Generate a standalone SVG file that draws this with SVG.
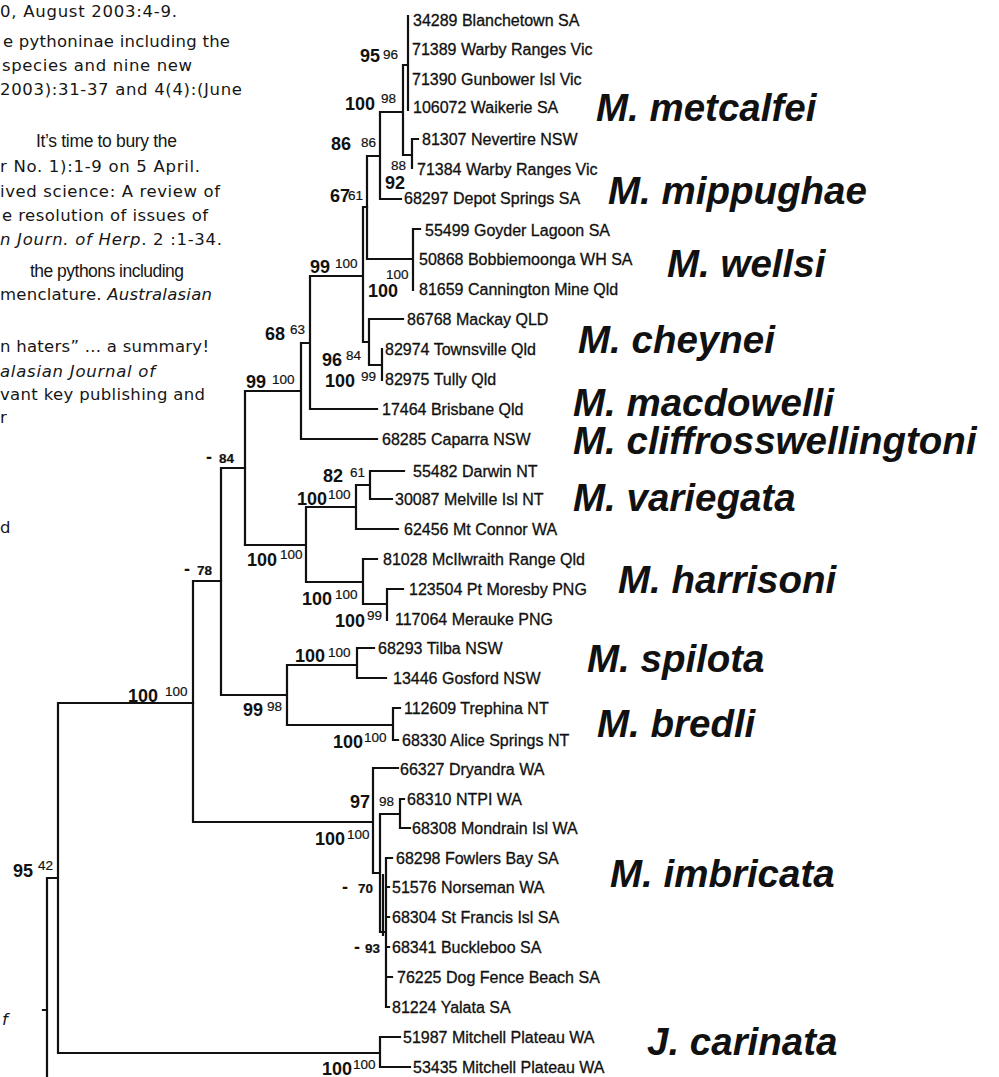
<svg xmlns="http://www.w3.org/2000/svg" width="999" height="1077" viewBox="0 0 999 1077">
<style>
text{font-family:"Liberation Sans",Arial,sans-serif;fill:#111}
.pg{font-family:"DejaVu Sans","Liberation Sans",sans-serif;font-size:16.5px;fill:#161616}
.pa{font-family:"Liberation Sans",Arial,sans-serif;font-size:17.5px;fill:#161616}
.it{font-style:italic}
.lf{font-size:16px;stroke:#111;stroke-width:0.3}
.sp{font-size:38.5px;font-weight:bold;font-style:italic}
.s1{font-size:18px;font-weight:bold}
.s2{font-size:13.5px;stroke:#111;stroke-width:0.2}
.br{fill:none;stroke:#111;stroke-width:2.2;stroke-linecap:square}
</style>
<rect width="999" height="1077" fill="#fff"/>
<g id="page-text">
<text class="pg" x="0" y="17" textLength="177">0, August 2003:4-9.</text>
<text class="pg" x="3" y="47" textLength="227">e pythoninae including the</text>
<text class="pg" x="2" y="71" textLength="190">species and nine new</text>
<text class="pg" x="0" y="95" textLength="242">2003):31-37 and 4(4):(June</text>
<text class="pa" x="36" y="147" textLength="141">It’s time to bury the</text>
<text class="pg" x="0" y="172" textLength="200">r No. 1):1-9 on 5 April.</text>
<text class="pg" x="0" y="197" textLength="220">ived science: A review of</text>
<text class="pg" x="2" y="221" textLength="206">e resolution of issues of</text>
<text class="pg" x="0" y="245" textLength="222"><tspan class="it">n Journ. of Herp</tspan>. 2 :1-34.</text>
<text class="pa" x="30" y="277" textLength="154">the pythons including</text>
<text class="pg" x="0" y="300" textLength="212">menclature. <tspan class="it">Australasian</tspan></text>
<text class="pg" x="0" y="352" textLength="209">n haters” ... a summary!</text>
<text class="pg it" x="0" y="377" textLength="155">alasian Journal of</text>
<text class="pg" x="0" y="400" textLength="205">vant key publishing and</text>
<text class="pg" x="0" y="423">r</text>
<text class="pg" x="0" y="533">d</text>
<text class="pg it" x="2" y="1025">f</text>
</g>
<g id="connectors" class="br">
<path d="M408,16V110M403,65H408M403,65V155M403,155H412M412,139V168M412,139H418M380,112H403M380,112V199M380,199H401M367,156H380M367,156V259M367,259H413M413,229V290M413,229H420"/>
<path d="M363,207H367M363,207V342M363,342H369M369,319V365M369,319H403M369,365H382M382,349V380M310,276H363M310,276V409M310,409H377M301,343H310M301,343V439M301,439H377M245,391H301M245,391V545"/>
<path d="M245,545H306M306,507V582M306,507H356M356,485V529M356,529H398M356,485H370M370,471V499M370,471H404M370,499H392M306,582H363M363,559V604M363,559H377M363,604H387M387,589V620M387,589H403"/>
<path d="M221,468H245M221,468V695M221,695H287M287,665V725M287,665H357M357,648V678M357,648H374M357,678H386M287,725H393M393,708V740M393,708H400M393,740H398"/>
<path d="M193,581H221M193,581V822M193,822H373M373,768V873M373,768H398M373,873H380M380,814V932M380,814H400M400,799V828M400,799H404M400,828H410M380,932H386M383,875V935M386,858V1007M386,858H392M386,887H389M386,917H389M386,947H389M386,977H392M386,1007H389"/>
<path d="M58,703H193M58,703V1053M58,1053H380M380,1037V1067M380,1037H400M380,1067H410M47,878H58M47,878V1077M43,1010H47"/>
</g>
<g id="leaves">
<g id="leaf-34289"><text class="lf" x="413" y="26">34289 Blanchetown SA</text></g>
<g id="leaf-71389"><text class="lf" x="412" y="55">71389 Warby Ranges Vic</text></g>
<g id="leaf-71390"><text class="lf" x="412" y="85">71390 Gunbower Isl Vic</text></g>
<g id="leaf-106072"><text class="lf" x="413" y="113">106072 Waikerie SA</text></g>
<g id="leaf-81307"><text class="lf" x="422" y="145">81307 Nevertire NSW</text></g>
<g id="leaf-71384"><text class="lf" x="417" y="175">71384 Warby Ranges Vic</text></g>
<g id="leaf-68297"><text class="lf" x="404" y="204">68297 Depot Springs SA</text></g>
<g id="leaf-55499"><text class="lf" x="425" y="236">55499 Goyder Lagoon SA</text></g>
<g id="leaf-50868"><text class="lf" x="419" y="265">50868 Bobbiemoonga WH SA</text></g>
<g id="leaf-81659"><text class="lf" x="419" y="295">81659 Cannington Mine Qld</text></g>
<g id="leaf-86768"><text class="lf" x="407" y="325">86768 Mackay QLD</text></g>
<g id="leaf-82974"><text class="lf" x="385" y="355">82974 Townsville Qld</text></g>
<g id="leaf-82975"><text class="lf" x="385" y="385">82975 Tully Qld</text></g>
<g id="leaf-17464"><text class="lf" x="382" y="415">17464 Brisbane Qld</text></g>
<g id="leaf-68285"><text class="lf" x="382" y="445">68285 Caparra NSW</text></g>
<g id="leaf-55482"><text class="lf" x="413" y="477">55482 Darwin NT</text></g>
<g id="leaf-30087"><text class="lf" x="395" y="505">30087 Melville Isl NT</text></g>
<g id="leaf-62456"><text class="lf" x="404" y="535">62456 Mt Connor WA</text></g>
<g id="leaf-81028"><text class="lf" x="383" y="565">81028 McIlwraith Range Qld</text></g>
<g id="leaf-123504"><text class="lf" x="409" y="595">123504 Pt Moresby PNG</text></g>
<g id="leaf-117064"><text class="lf" x="395" y="625">117064 Merauke PNG</text></g>
<g id="leaf-68293"><text class="lf" x="378" y="654">68293 Tilba NSW</text></g>
<g id="leaf-13446"><text class="lf" x="393" y="684">13446 Gosford NSW</text></g>
<g id="leaf-112609"><text class="lf" x="404" y="714">112609 Trephina NT</text></g>
<g id="leaf-68330"><text class="lf" x="402" y="746">68330 Alice Springs NT</text></g>
<g id="leaf-66327"><text class="lf" x="400" y="775">66327 Dryandra WA</text></g>
<g id="leaf-68310"><text class="lf" x="407" y="805">68310 NTPI WA</text></g>
<g id="leaf-68308"><text class="lf" x="412" y="834">68308 Mondrain Isl WA</text></g>
<g id="leaf-68298"><text class="lf" x="396" y="864">68298 Fowlers Bay SA</text></g>
<g id="leaf-51576"><text class="lf" x="392" y="893">51576 Norseman WA</text></g>
<g id="leaf-68304"><text class="lf" x="392" y="923">68304 St Francis Isl SA</text></g>
<g id="leaf-68341"><text class="lf" x="392" y="953">68341 Buckleboo SA</text></g>
<g id="leaf-76225"><text class="lf" x="397" y="983">76225 Dog Fence Beach SA</text></g>
<g id="leaf-81224"><text class="lf" x="392" y="1013">81224 Yalata SA</text></g>
<g id="leaf-51987"><text class="lf" x="403" y="1043">51987 Mitchell Plateau WA</text></g>
<g id="leaf-53435"><text class="lf" x="413" y="1073">53435 Mitchell Plateau WA</text></g>
</g>
<g id="species">
<g id="sp-metcalfei"><text class="sp" x="596" y="121">M. metcalfei</text></g>
<g id="sp-mippughae"><text class="sp" x="608" y="204">M. mippughae</text></g>
<g id="sp-wellsi"><text class="sp" x="667" y="277">M. wellsi</text></g>
<g id="sp-cheynei"><text class="sp" x="578" y="353">M. cheynei</text></g>
<g id="sp-macdowelli"><text class="sp" x="573" y="416">M. macdowelli</text></g>
<g id="sp-cliffrosswellingtoni"><text class="sp" x="573" y="454">M. cliffrosswellingtoni</text></g>
<g id="sp-variegata"><text class="sp" x="573" y="511">M. variegata</text></g>
<g id="sp-harrisoni"><text class="sp" x="618" y="593">M. harrisoni</text></g>
<g id="sp-spilota"><text class="sp" x="587" y="672">M. spilota</text></g>
<g id="sp-bredli"><text class="sp" x="597" y="737">M. bredli</text></g>
<g id="sp-imbricata"><text class="sp" x="610" y="887">M. imbricata</text></g>
<g id="sp-carinata"><text class="sp" x="647" y="1055">J. carinata</text></g>
</g>
<g id="support">
<g id="bs-1"><text class="s1" x="360" y="62">95</text><text class="s2" x="383" y="59">96</text></g>
<g id="bs-2"><text class="s1" x="345" y="110">100</text><text class="s2" x="381" y="103">98</text></g>
<g id="bs-3"><text class="s1" x="331" y="150">86</text><text class="s2" x="361" y="147">86</text></g>
<g id="bs-4"><text class="s1" x="330" y="202">67</text><text class="s2" x="348" y="200">61</text></g>
<g id="bs-5"><text class="s2" x="391" y="170">88</text><text class="s1" x="385" y="189">92</text></g>
<g id="bs-6"><text class="s2" x="386" y="279">100</text><text class="s1" x="368" y="297">100</text></g>
<g id="bs-7"><text class="s1" x="310" y="273">99</text><text class="s2" x="335" y="268">100</text></g>
<g id="bs-8"><text class="s1" x="322" y="366">96</text><text class="s2" x="346" y="360">84</text></g>
<g id="bs-9"><text class="s1" x="325" y="387">100</text><text class="s2" x="361" y="381">99</text></g>
<g id="bs-10"><text class="s1" x="265" y="340">68</text><text class="s2" x="290" y="334">63</text></g>
<g id="bs-11"><text class="s1" x="246" y="388">99</text><text class="s2" x="272" y="384">100</text></g>
<g id="bs-12"><text class="s1" x="206" y="463">- <tspan class="s2" dx="2">84</tspan></text></g>
<g id="bs-13"><text class="s1" x="323" y="482">82</text><text class="s2" x="350" y="477">61</text></g>
<g id="bs-14"><text class="s1" x="297" y="505">100</text><text class="s2" x="328" y="499">100</text></g>
<g id="bs-15"><text class="s1" x="247" y="566">100</text><text class="s2" x="280" y="559">100</text></g>
<g id="bs-16"><text class="s1" x="302" y="605">100</text><text class="s2" x="335" y="599">100</text></g>
<g id="bs-17"><text class="s1" x="335" y="627">100</text><text class="s2" x="367" y="620">99</text></g>
<g id="bs-18"><text class="s1" x="295" y="662">100</text><text class="s2" x="328" y="657">100</text></g>
<g id="bs-19"><text class="s1" x="243" y="716">99</text><text class="s2" x="267" y="711">98</text></g>
<g id="bs-20"><text class="s1" x="333" y="748">100</text><text class="s2" x="364" y="742">100</text></g>
<g id="bs-21"><text class="s1" x="184" y="575">- <tspan class="s2" dx="2">78</tspan></text></g>
<g id="bs-22"><text class="s1" x="128" y="702">100</text><text class="s2" x="165" y="696">100</text></g>
<g id="bs-23"><text class="s1" x="350" y="808">97</text><text class="s2" x="379" y="806">98</text></g>
<g id="bs-24"><text class="s1" x="315" y="845">100</text><text class="s2" x="347" y="839">100</text></g>
<g id="bs-25"><text class="s1" x="342" y="893">- <tspan class="s2" dx="5">70</tspan></text></g>
<g id="bs-26"><text class="s1" x="354" y="953">- <tspan class="s2" dx="0">93</tspan></text></g>
<g id="bs-27"><text class="s1" x="322" y="1075">100</text><text class="s2" x="353" y="1069">100</text></g>
<g id="bs-28"><text class="s1" x="13" y="877">95</text><text class="s2" x="38" y="870">42</text></g>
</g>
</svg>
